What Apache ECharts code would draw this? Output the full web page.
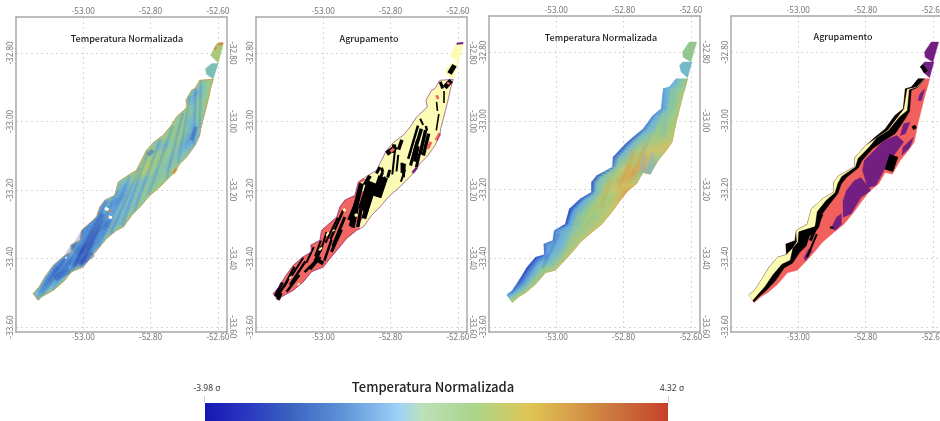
<!DOCTYPE html>
<html><head><meta charset="utf-8">
<style>html,body{margin:0;padding:0;background:#fff;overflow:hidden}#c{width:940px;height:421px;filter:blur(0.5px)}</style>
<script src="https://cdn.jsdelivr.net/npm/echarts@6/dist/echarts.min.js"></script></head>
<body><div id="c"></div>
<script>
const lonTicks=[-53,-52.8,-52.6];
const latTicks=[-32.8,-33,-33.2,-33.4,-33.6];
const barStops=[0,0.1,0.18,0.3,0.42,0.47,0.58,0.7,0.8,0.9,1];
const barColors=['#1616b4','#2b3cc0','#3a60c0','#5f94d8','#9fd2f8','#bde0b8','#aad58c','#dfc655','#d69b48','#c86f3a','#c8402a'];
// colours as they appear on the maps, by sigma
const mapSigma=[-4,-3,-2.2,-1.4,-0.7,-0.1,0.5,1.0,1.6,2.2,3,4.3];
const mapColors=['#1616b4','#2440c0','#3a66c8','#5090d8','#6eb4d8','#80c0b0','#92c890','#aac878','#cfc266','#d6a050','#c87038','#c8402a'];
const stripeColors={b:'#3f78d0',g:'#a8cc78',t:'#78c0b0',y:'#c4c860',d:'#2848b8',o:'#d89a48',l:'#78b4e0',k:'#000000'};
const clusterColors={K:'#000000',C:'#fcfbb2',R:'#f1605d',P:'#721f81'};

// survey A (panels 1, 2): north-west edge and south-east edge
const upperLonA=[-52.654,-52.668,-52.678,-52.695,-52.691,-52.723,-52.738,-52.762,-52.790,-52.812,-52.832,-52.842,-52.866,-52.896,-52.906,-52.936,-52.951,-52.960,-53.005,-53.010,-53.037,-53.035,-53.061,-53.089,-53.114,-53.131,-53.149];
const upperLatA=[-32.880,-32.904,-32.909,-32.938,-32.958,-32.987,-33.011,-33.040,-33.060,-33.084,-33.123,-33.143,-33.157,-33.177,-33.216,-33.230,-33.250,-33.279,-33.318,-33.347,-33.361,-33.381,-33.396,-33.420,-33.454,-33.483,-33.503];
const lowerLonA=[-52.614,-52.622,-52.626,-52.632,-52.642,-52.651,-52.654,-52.668,-52.693,-52.713,-52.728,-52.748,-52.772,-52.802,-52.832,-52.856,-52.881,-52.901,-52.931,-52.955,-52.980,-53.000,-53.035,-53.059,-53.089,-53.124,-53.134];
const lowerLatA=[-32.877,-32.904,-32.924,-32.948,-32.987,-33.021,-33.040,-33.070,-33.104,-33.123,-33.147,-33.167,-33.191,-33.216,-33.250,-33.274,-33.308,-33.318,-33.342,-33.371,-33.400,-33.425,-33.439,-33.468,-33.493,-33.512,-33.522];
const tipA=[
  {lon:[-52.622,-52.604,-52.584,-52.586,-52.599],lat:[-32.807,-32.773,-32.771,-32.782,-32.829]},
  {lon:[-52.637,-52.619,-52.599,-52.614,-52.634],lat:[-32.846,-32.831,-32.831,-32.876,-32.862]}];
// survey B (panels 3, 4)
const upperLonB=[-52.644,-52.664,-52.682,-52.688,-52.713,-52.742,-52.772,-52.799,-52.831,-52.833,-52.880,-52.895,-52.895,-52.929,-52.961,-52.973,-53.006,-53.010,-53.037,-53.035,-53.062,-53.087,-53.108,-53.131,-53.147];
const upperLatB=[-32.878,-32.902,-32.907,-32.965,-32.985,-33.024,-33.048,-33.072,-33.106,-33.135,-33.160,-33.179,-33.208,-33.228,-33.257,-33.301,-33.320,-33.349,-33.359,-33.390,-33.398,-33.427,-33.461,-33.495,-33.507];
const lowerLonB=[-52.610,-52.617,-52.623,-52.639,-52.644,-52.656,-52.674,-52.698,-52.721,-52.742,-52.762,-52.787,-52.811,-52.836,-52.865,-52.895,-52.929,-52.949,-52.967,-53.003,-53.032,-53.062,-53.091,-53.111,-53.131];
const lowerLatB=[-32.878,-32.904,-32.922,-32.985,-33.004,-33.062,-33.087,-33.116,-33.155,-33.150,-33.184,-33.203,-33.233,-33.267,-33.301,-33.325,-33.354,-33.378,-33.398,-33.435,-33.442,-33.476,-33.500,-33.512,-33.529];
const tipB=[
  {lon:[-52.625,-52.605,-52.583,-52.600,-52.623],lat:[-32.800,-32.771,-32.771,-32.829,-32.815]},
  {lon:[-52.634,-52.625,-52.597,-52.610,-52.629],lat:[-32.839,-32.829,-32.829,-32.875,-32.858]}];

// normalised temperature (sigma) across the strip, NW to SE, one row per station
const tempA=[[0.6,0.2,0.5,0.7,0.6],[0.5,-0.6,-0.3,0.5,0.6],[0.3,-1.0,-0.5,0.3,0.6],[0.2,-0.8,-0.2,0.3,0.6],[0.4,0.2,-0.3,0.3,0.5],[0.4,0.3,-0.4,-0.9,0.2],[0.5,0.3,0.2,-1.0,-0.6],[0.4,0.5,0.3,-1.1,-0.4],[0.4,-0.9,0.4,-0.5,0.3],[0.4,0.2,0.6,-0.4,0.4],[0.6,0.9,0.2,-0.2,0.7],[0.7,1.0,0.0,0.1,0.6],[0.2,0.4,-0.5,0.1,0.6],[0.0,-0.8,-0.6,-0.3,0.7],[-0.5,-1.3,-0.7,-0.5,0.3],[-0.6,-1.4,-0.9,-0.7,0.2],[-0.9,-1.2,-0.8,-0.9,0.3],[-1.5,-1.5,-2.0,-0.9,0.0],[-1.3,-1.6,-2.2,-1.3,-0.3],[-1.2,-1.8,-2.6,-1.7,-0.5],[-1.2,-1.8,-2.6,-2.2,-0.6],[-1.0,-1.5,-2.2,-2.5,-0.6],[-1.0,-1.7,-1.8,-1.2,0.0],[-1.0,-2.2,-2.0,-1.0,0.2],[-0.6,-1.8,-1.6,-0.6,0.2],[-0.2,-1.2,-1.2,-0.4,0.3],[0.2,-0.4,-0.4,0.2,0.4]];
const tempB=[[-1.0,-0.6,-0.1,0.3,0.6],[-1.0,-0.7,-0.3,0.2,0.7],[-1.2,-0.8,-0.3,0.4,0.9],[-1.3,-1.0,-0.2,0.5,1.0],[-1.6,-0.8,0.0,0.6,1.0],[-1.8,-0.6,0.5,0.9,1.4],[-2.2,-0.4,0.7,1.3,1.8],[-2.5,-0.6,1.0,1.8,0.3],[-2.3,-0.3,1.0,2.0,-0.5],[-1.6,0.3,1.4,2.2,0.4],[-2.3,-0.2,0.9,2.0,1.2],[-2.6,-0.4,0.9,1.6,2.2],[-2.3,-0.4,0.8,1.0,1.8],[-2.6,-0.7,0.6,0.9,1.4],[-2.9,-1.0,0.4,0.7,1.3],[-2.8,-1.0,0.0,0.6,1.5],[-1.8,-1.0,-0.6,0.4,1.2],[-2.0,-1.0,-0.7,0.3,1.4],[-1.8,-1.2,-0.9,0.0,1.2],[-2.4,-1.4,-0.6,0.3,1.1],[-2.8,-1.8,-0.7,0.2,0.9],[-3.0,-2.0,-1.0,0.1,1.0],[-2.6,-2.2,-1.2,0.0,0.9],[-2.0,-1.6,-0.7,0.3,1.0],[-1.2,-0.8,-0.3,0.4,1.0]];
const tipTempA=[1.0,-0.2];
const tipTempB=[0.5,-0.5];
const crossStopsA=[0,.25,.5,.75,1];
const crossStopsB=[0,.14,.4,.7,1];

// stripes along the survey tracks: station1, across1, station2, across2, colour, width
const stripes1=[[0,.1,5,.95,'b',2.5],[0.5,.05,6,.9,'g',2.5],[1,.05,7,.95,'b',3],[2,.05,8,.85,'t',3],[2.5,.05,9,.95,'b',2.5],[3.5,.05,10,.9,'y',3],[4.5,.05,11,.95,'b',3],[5,.05,12,.95,'g',3],[6,.05,13,.95,'b',3],[6.8,.05,14,.95,'y',3],[7.5,.05,14.5,.95,'b',2.5],[8.2,.05,15.5,.95,'y',3],[9,.05,16,.95,'b',3],[9.8,.05,17,.95,'g',2.5],[10.5,.05,17.5,.95,'b',3],[11,.05,18,.95,'y',2.5],[12,.05,19,.95,'b',3],[12.8,.05,20,.95,'t',3],[13.5,.05,20.5,.95,'b',3.5],[14.5,.05,21.5,.95,'g',2.5],[15,.05,22,.95,'d',3.5],[16,.05,23,.95,'t',3],[17,.05,24,.95,'b',3],[18,.05,25,.95,'d',3],[19,.05,26,.9,'t',3],[20,.05,26,.8,'b',3]];
const stripes3=[[5,.35,9,.75,'y',4],[6,.4,9.5,.8,'o',4],[7,.3,10,.65,'o',5],[8,.45,11,.75,'o',4],[9,.55,12,.85,'y',4],[10,.35,13,.65,'o',4],[11,.4,13.5,.7,'y',5],[12,.3,15,.65,'y',3],[13,.45,16,.8,'y',3],[14,.3,17,.7,'g',3],[15,.5,18,.9,'y',2.5],[16,.2,20,.7,'b',3],[15,.25,19,.7,'l',2.5],[18,.25,22,.75,'l',2.5],[4,.2,7,.55,'l',3],[3,.2,6,.6,'g',3],[2,.3,5,.7,'l',2.5],[1,.2,4,.6,'g',2.5],[7,.6,8.5,.85,'l',5],[6.5,.72,8,.98,'l',4]];
const stripes2=[[0.2,.1,1,.5,'k',3],[1.5,.65,3,.85,'k',1.6],[3,.5,3.8,.6,'k',1.6],[4,.7,5.5,.85,'k',1.6],[5,.15,5.5,.35,'k',2],[5.5,.45,6,.55,'k',2.5],[6,.5,8,.8,'k',3.5],[6.2,.65,8,.9,'k',3.5],[6,.35,8.5,.7,'k',3.5],[5.8,.2,9,.65,'k',2.5],[7,.45,9.5,.8,'k',3],[7.5,.6,9,.85,'k',3.5],[8,.78,9.5,.97,'k',3],[7.5,.1,8.5,.25,'k',3.5],[8.2,.05,9,.2,'k',4],[9,.35,10.5,.55,'k',2],[8.5,.15,11,.5,'k',2],[9.5,.55,10.5,.72,'k',3],[9.5,.62,11,.85,'k',3],[10,.72,11.5,.9,'k',2],[10.5,.1,11,.2,'k',3],[10.5,.35,11.5,.48,'k',3],[11,.2,12,.35,'k',3],[11.5,.4,13,.6,'k',2],[12,.05,13,.2,'k',4],[12.5,.2,15,.6,'k',6],[12.5,.35,15,.75,'k',6],[13.5,.5,15.5,.85,'k',5],[13,.1,15,.4,'k',5],[14,.15,16.5,.5,'k',4],[14.5,.3,17,.7,'k',4],[15,.45,17,.8,'k',4],[15,.6,16.5,.9,'k',3.5],[16,.15,18.5,.45,'k',2.5],[16.5,.3,19,.7,'k',3],[17,.05,19,.3,'k',2],[17.5,.55,19.5,.85,'k',3],[18,.2,20,.5,'k',2],[18.5,.5,20.5,.85,'k',2.5],[19,.05,21,.3,'k',2],[19.5,.35,21.5,.65,'k',3],[20,.15,22,.4,'k',2],[20.5,.6,22,.85,'k',2.5],[21,.5,22.5,.7,'k',2.5],[22,.05,23.5,.3,'k',2],[22,.3,24,.6,'k',2.5],[23,.1,24.5,.4,'k',2.5],[23,.6,24.5,.85,'k',2.5],[24,.3,25.5,.55,'k',2.5],[24.5,.05,26,.4,'k',3],[25,.6,26,.95,'k',4]];

// panel 2 base cluster across the strip, one row per station
const clusterA=["CCCCCCCCCCCC","CCCCCCCCCCCC","CCCCCCCCCCCC","CCCCCCCCCCCC","CCCCCCCCCCCC","CCCCCCCCCCCC","CCCCCCCCCCCC","CCCCCCCCCCCC","CCCCCCCCCCCC","CCCCCCCCCCCC","CCCCCCCCCCCC","CCCCCCCCCCCC","CCCCCCCCCCCC","RCCCCCCCCCCC","RRRRRCCCCCCC","RRRRRRRRCCCC","RRRRRRRRRRCC","RRRRRRRRRRRR","RRRRRRRRRRRR","RRRRRRRRRRRR","RRRRRRRRRRRR","RRRRRRRRRRRR","RRRRRRRRRRRR","RRRRRRRRRRRR","RRRRRRRRRRRR","RRRRRRRRRRRR","RRRRRRRRRRRR"];
const tipClusterA=['C','C'];
// panel 2 marks: lon1, lat1, lon2, lat2, width
const blackA=[[-52.610,-32.836,-52.625,-32.860,5],[-52.620,-32.880,-52.639,-32.901,5],[-52.822,-33.162,-52.842,-33.220,10],[-52.832,-33.133,-52.842,-33.152,3],[-52.783,-33.074,-52.812,-33.094,5],[-53.025,-33.400,-53.000,-33.415,4],[-53.143,-33.503,-53.128,-33.507,5]];
const redA=[[-52.627,-32.885,-52.630,-32.892,3],[-52.664,-32.924,-52.658,-32.934,2.5],[-52.654,-33.035,-52.665,-33.055,3],[-52.790,-33.079,-52.800,-33.089,3],[-52.680,-33.060,-52.690,-33.080,3]];
const creamA=[[-52.905,-33.270,-52.900,-33.277,3],[-52.990,-33.327,-52.985,-33.330,4],[-53.010,-33.370,-53.006,-33.374,4],[-52.970,-33.317,-52.968,-33.320,3],[-53.075,-33.473,-53.072,-33.478,2.5],[-53.100,-33.455,-53.097,-33.458,2.5],[-52.940,-33.255,-52.935,-33.262,3]];
const purpleA=[[-52.604,-32.773,-52.584,-32.771,2],[-52.735,-33.150,-52.722,-33.135,2.5]];

// panel 1 marks
const darkStreaks1=[[-52.941,-33.269,-53.005,-33.415,4],[-52.664,-33.016,-52.679,-33.055,4],[-52.793,-33.084,-52.807,-33.099,4],[-53.040,-33.434,-53.084,-33.459,6],[-52.970,-33.386,-53.010,-33.415,6]];
const orange1=[[-52.723,-33.138,-52.733,-33.152,2.5],[-52.925,-33.262,-52.915,-33.262,1.5],[-52.930,-33.279,-52.925,-33.279,1.5],[-52.600,-32.775,-52.585,-32.772,3],[-52.610,-32.790,-52.604,-32.782,2]];
const white1=[[-52.936,-33.253,-52.925,-33.258,3],[-52.924,-33.279,-52.915,-33.281,3],[-53.053,-33.397,-53.050,-33.399,2.5]];

// panel 4: band limits across the strip (black, then cream, then black) for each station
const bandsB=[[.55,.55,.55],[.35,.4,.4],[.1,.2,.3],[.05,.25,.38],[.15,.2,.45],[.1,.12,.35],[.05,.05,.27],[0,.1,.2],[0,.08,.19],[0,.03,.13],[0,.08,.2],[0,.12,.21],[0,.05,.15],[0,.12,.27],[0,.18,.33],[0,.3,.43],[0,.1,.5],[.1,.15,.55],[.3,.3,.6],[0,.35,.55],[0,.45,.68],[0,.45,.78],[0,.55,.82],[0,.6,.87],[0,.75,.95]];
const purpleB=[
 {lon:[-52.746,-52.707,-52.687,-52.716,-52.731,-52.746,-52.770,-52.794,-52.809,-52.804,-52.765],lat:[-33.058,-33.043,-33.062,-33.101,-33.111,-33.145,-33.189,-33.194,-33.145,-33.116,-33.077]},
 {lon:[-52.814,-52.784,-52.814,-52.843,-52.867,-52.867,-52.857,-52.833],lat:[-33.165,-33.203,-33.223,-33.271,-33.281,-33.233,-33.203,-33.174]},
 {lon:[-52.658,-52.668,-52.692,-52.689],lat:[-33.048,-33.077,-33.100,-33.077]},
 {lon:[-52.872,-52.872,-52.891,-52.901,-52.886],lat:[-33.271,-33.301,-33.320,-33.310,-33.281]},
 {lon:[-52.959,-52.979,-52.983,-52.969],lat:[-33.378,-33.408,-33.398,-33.373]},
 {lon:[-52.687,-52.668,-52.682,-52.697],lat:[-33.009,-33.004,-33.038,-33.043]},
 {lon:[-52.639,-52.624,-52.634,-52.644],lat:[-32.922,-32.907,-32.941,-32.941]}];
const blackB=[[-52.930,-33.271,-52.964,-33.349,3],[-52.945,-33.330,-52.974,-33.398,2],[-52.716,-33.101,-52.731,-33.145,9],[-52.658,-33.014,-52.653,-33.024,4],[-52.906,-33.310,-52.896,-33.312,2],[-52.634,-32.839,-52.620,-32.858,4]];
const tipClusterB=['P','P'];

const panelTitles=['Temperatura Normalizada','Agrupamento','Temperatura Normalizada','Agrupamento'];
const barTitle='Temperatura Normalizada';
const barLabels=['-3.98 σ','4.32 σ'];

const box=[[16,17,211,315],[256,17,211,315],[489,16,211,316],[731,16,211,316]];
const titleX=[122,364,596,838], titleY=[29,29,28,27];

function hex(c){return [1,3,5].map(i=>parseInt(c.substr(i,2),16));}
function tempColor(v){
  const t=Math.max(mapSigma[0],Math.min(mapSigma[mapSigma.length-1],v));
  let k=0; while(k<mapSigma.length-2&&t>mapSigma[k+1])k++;
  const f=(t-mapSigma[k])/(mapSigma[k+1]-mapSigma[k]),a=hex(mapColors[k]),b=hex(mapColors[k+1]);
  return 'rgb('+a.map((x,i)=>Math.round(x+(b[i]-x)*f)).join(',')+')';
}
function survey(uLon,uLat,lLon,lLat){return {U:uLon.map((x,i)=>[x,uLat[i]]),L:lLon.map((x,i)=>[x,lLat[i]])};}
const mix=(a,b,t)=>[a[0]+(b[0]-a[0])*t,a[1]+(b[1]-a[1])*t];
function at(E,x){const i=Math.min(Math.floor(x),E.length-2);return mix(E[i],E[i+1],x-i);}
function edge(E,s){const p=E[s];return [s>0?mix(E[s-1],p,.5):p,p,s<E.length-1?mix(p,E[s+1],.5):p];}
const base=idx=>({type:'custom',xAxisIndex:idx*2,yAxisIndex:idx*2,silent:true,animation:false,clip:true,z:3,encode:{x:0,y:1}});
const SLICES=4;
function tempSeries(idx,sv,table,cross){
  const cells=[];
  for(let s=0;s<table.length-1;s++)for(let k=0;k<SLICES;k++)cells.push([sv.U[s][0],sv.U[s][1],s,k]);
  return Object.assign(base(idx),{data:cells,
    renderItem(p,api){
      const s=api.value(2),k=api.value(3),f0=k/SLICES,f1=(k+1)/SLICES,fm=(k+.5)/SLICES;
      const a=api.coord(mix(sv.U[s],sv.U[s+1],f0)),b=api.coord(mix(sv.U[s],sv.U[s+1],f1));
      const c=api.coord(mix(sv.L[s],sv.L[s+1],f1)),d=api.coord(mix(sv.L[s],sv.L[s+1],f0));
      const stops=table[s].map((v,j)=>({offset:cross[j],color:tempColor(v+(table[s+1][j]-v)*fm)}));
      const grad={type:'linear',global:true,x:(a[0]+b[0])/2,y:(a[1]+b[1])/2,x2:(c[0]+d[0])/2,y2:(c[1]+d[1])/2,colorStops:stops};
      return {type:'polygon',shape:{points:[a,b,c,d]},style:{fill:grad,stroke:grad,lineWidth:0.6}};
    }});
}
function clusterSeries(idx,sv,table){
  const cells=[];
  table.forEach((row,s)=>{for(let j=0;j<row.length;j++)cells.push([sv.U[s][0],sv.U[s][1],s,j]);});
  return Object.assign(base(idx),{data:cells,
    renderItem(p,api){
      const s=api.value(2),j=api.value(3),row=table[s],n=row.length,u=edge(sv.U,s),l=edge(sv.L,s);
      const a=u.map((c,i)=>api.coord(mix(c,l[i],j/n))),b=u.map((c,i)=>api.coord(mix(c,l[i],(j+1)/n)));
      const col=clusterColors[row[j]];
      return {type:'polygon',shape:{points:[a[0],a[1],a[2],b[2],b[1],b[0]]},style:{fill:col,stroke:col,lineWidth:0.4}};
    }});
}
function bandSeries(idx,sv,table,from,to,col){
  const pick=(s,c)=>c<0?0:c>2?1:table[s][c];
  const ends=sv.U.map((u,s)=>[mix(u,sv.L[s],pick(s,from)),mix(u,sv.L[s],pick(s,to))]);
  return polySeries(idx,[{lon:ends.map(e=>e[0][0]).concat(ends.map(e=>e[1][0]).reverse()),lat:ends.map(e=>e[0][1]).concat(ends.map(e=>e[1][1]).reverse())}],[col]);
}
function polySeries(idx,polys,colors){
  return Object.assign(base(idx),{data:polys.map(t=>[t.lon[0],t.lat[0]]),
    renderItem(p,api){
      const t=polys[p.dataIndex],c=colors[p.dataIndex];
      return {type:'polygon',shape:{points:t.lon.map((x,i)=>api.coord([x,t.lat[i]]))},style:{fill:c,stroke:c,lineWidth:0.4}};
    }});
}
function streakSeries(idx,rows,color,opacity){
  return Object.assign(base(idx),{z:4,data:rows,encode:{x:[0,2],y:[1,3]},
    renderItem(p,api){
      const a=api.coord([api.value(0),api.value(1)]),b=api.coord([api.value(2),api.value(3)]);
      return {type:'line',shape:{x1:a[0],y1:a[1],x2:b[0],y2:b[1]},style:{stroke:color,lineWidth:api.value(4),opacity:opacity,lineCap:'butt'}};
    }});
}
function stripeSeries(idx,sv,rows,opacity){
  const pt=(x,f)=>mix(at(sv.U,x),at(sv.L,x),f);
  return Object.assign(base(idx),{z:4,data:rows.map(r=>pt(r[0],r[1])),
    renderItem(p,api){
      const r=rows[p.dataIndex],a=api.coord(pt(r[0],r[1])),b=api.coord(pt(r[2],r[3]));
      return {type:'line',shape:{x1:a[0],y1:a[1],x2:b[0],y2:b[1]},style:{stroke:stripeColors[r[4]],lineWidth:r[5],opacity:opacity,lineCap:'butt'}};
    }});
}
function outlineSeries(idx,sv,color,width,lowerOnly){
  const pts=lowerOnly?sv.L:sv.U.concat(sv.L.slice().reverse(),[sv.U[0]]);
  return {type:'line',xAxisIndex:idx*2,yAxisIndex:idx*2,silent:true,animation:false,symbol:'none',z:5,data:pts,lineStyle:{color:color,width:width}};
}
const A=survey(upperLonA,upperLatA,lowerLonA,lowerLatA), B=survey(upperLonB,upperLatB,lowerLonB,lowerLatB);
const axisFont={fontFamily:'Noto Sans',fontSize:8,color:'#777'};
const fmt=v=>v.toFixed(2);
const split={show:true,lineStyle:{color:'#d8d8d8',type:[2,3],width:1}};
const grids=[],xAxes=[],yAxes=[];
box.forEach((b,i)=>{
  grids.push({left:b[0],top:b[1],width:b[2],height:b[3],show:false,outerBoundsMode:'none'});
  ['top','bottom'].forEach((pos,k)=>xAxes.push({type:'value',gridIndex:i,position:pos,min:-53.2,max:-52.573,
    axisLine:{show:true,onZero:false,lineStyle:{color:'#a8a8a8',width:1.5}},
    axisTick:{show:false,customValues:lonTicks},
    axisLabel:Object.assign({show:true,margin:k?2:1,formatter:fmt,customValues:lonTicks},axisFont),
    splitLine:k?{show:false}:split}));
  ['left','right'].forEach((pos,k)=>yAxes.push({type:'value',gridIndex:i,position:pos,min:-33.615,max:-32.695,
    axisLine:{show:true,onZero:false,lineStyle:{color:'#a8a8a8',width:1.5}},
    axisTick:{show:false,customValues:latTicks},
    axisLabel:Object.assign({show:true,margin:1,rotate:k?-90:90,formatter:fmt,customValues:latTicks},axisFont),
    splitLine:k?{show:false}:split}));
});
const series=[
  tempSeries(0,A,tempA,crossStopsA),polySeries(0,tipA,tipTempA.map(tempColor)),
  stripeSeries(0,A,stripes1,.24),streakSeries(0,darkStreaks1,'#2c4cb8',.4),
  streakSeries(0,orange1,'#d4803a',.85),streakSeries(0,white1,'#ffffff',1),
  outlineSeries(0,A,'rgba(214,150,70,.75)',1),
  clusterSeries(1,A,clusterA),polySeries(1,tipA,tipClusterA.map(c=>clusterColors[c])),
  stripeSeries(1,A,stripes2,1),streakSeries(1,blackA,'#000',1),streakSeries(1,redA,clusterColors.R,1),streakSeries(1,creamA,clusterColors.C,1),streakSeries(1,purpleA,clusterColors.P,1),
  outlineSeries(1,A,'rgba(114,31,129,.75)',0.8),
  tempSeries(2,B,tempB,crossStopsB),polySeries(2,tipB,tipTempB.map(tempColor)),
  stripeSeries(2,B,stripes3,.3),
  outlineSeries(2,B,'rgba(214,150,70,.6)',0.8,true),
  polySeries(3,[{lon:upperLonB.concat(lowerLonB.slice().reverse()),lat:upperLatB.concat(lowerLatB.slice().reverse())}],[clusterColors.R]),
  polySeries(3,tipB,tipClusterB.map(c=>clusterColors[c])),
  bandSeries(3,B,bandsB,-1,0,clusterColors.K),bandSeries(3,B,bandsB,0,1,clusterColors.C),bandSeries(3,B,bandsB,1,2,clusterColors.K),
  polySeries(3,purpleB,purpleB.map(()=>clusterColors.P)),streakSeries(3,blackB,'#000',1),
  outlineSeries(3,B,'rgba(241,96,93,.6)',0.7,true)
];
const titles=panelTitles.map((t,i)=>({text:t,left:titleX[i],top:titleY[i],textAlign:'center',
  textStyle:{fontFamily:'Noto Sans CJK JP',fontSize:9,fontWeight:500,color:'#222'}}));
titles.push({text:barTitle,left:428,top:376,textAlign:'center',textStyle:{fontFamily:'Noto Sans CJK JP',fontSize:13,fontWeight:500,color:'#222'}});
const chart=echarts.init(document.getElementById('c'),null,{renderer:'canvas'});
chart.setOption({animation:false,backgroundColor:'#fff',title:titles,grid:grids,xAxis:xAxes,yAxis:yAxes,series,
  graphic:[
    {type:'rect',silent:true,shape:{x:205,y:403,width:463,height:18},
     style:{fill:{type:'linear',x:0,y:0,x2:1,y2:0,colorStops:barStops.map((o,i)=>({offset:o,color:barColors[i]}))}}},
    {type:'rect',silent:true,shape:{x:204,y:396,width:1,height:7},style:{fill:'#cfcfcf'}},
    {type:'rect',silent:true,shape:{x:668,y:396,width:1,height:7},style:{fill:'#cfcfcf'}},
    {type:'text',silent:true,x:207,y:389,style:{text:barLabels[0],fill:'#555',font:'500 8.5px "Noto Sans"',textAlign:'center',textVerticalAlign:'middle'}},
    {type:'text',silent:true,x:672,y:389,style:{text:barLabels[1],fill:'#555',font:'500 8.5px "Noto Sans"',textAlign:'center',textVerticalAlign:'middle'}}
  ]});
</script></body></html>
